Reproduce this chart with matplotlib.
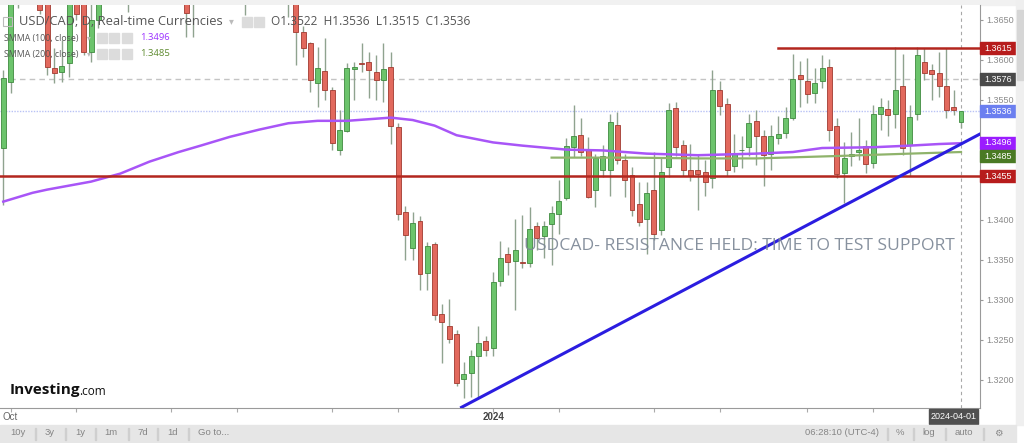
import matplotlib
matplotlib.use("Agg")
import matplotlib.pyplot as plt
import matplotlib.transforms as mtrans
from matplotlib.patches import Rectangle
import numpy as np

# ---------------- data ----------------
opens = [1.3490, 1.3573, 1.3695, 1.3735, 1.3740, 1.3725, 1.3680, 1.3590, 1.3585, 1.3596,
         1.3690, 1.3672, 1.3610, 1.3650, 1.3700, 1.3715, 1.3712, 1.3695, 1.3700, 1.3780,
         1.3800, 1.3830, 1.3820, 1.3865, 1.3820, 1.3745, 1.3675, 1.3720, 1.3775, 1.3790,
         1.3810, 1.3795, 1.3800, 1.3720, 1.3715, 1.3740, 1.3720, 1.3710, 1.3720, 1.3705,
         1.3700, 1.3635, 1.3621, 1.3571, 1.3586, 1.3563, 1.3488, 1.3511, 1.3589, 1.3596,
         1.3598, 1.3585, 1.3575, 1.3591, 1.3516, 1.3410, 1.3365, 1.3399, 1.3334, 1.3370,
         1.3283, 1.3267, 1.3258, 1.3201, 1.3209, 1.3230, 1.3249, 1.3240, 1.3324, 1.3358,
         1.3349, 1.3348, 1.3346, 1.3392, 1.3380, 1.3395, 1.3408, 1.3427, 1.3491, 1.3506,
         1.3487, 1.3438, 1.3462, 1.3463, 1.3519, 1.3475, 1.3456, 1.3420, 1.3401, 1.3438,
         1.3387, 1.3466, 1.3540, 1.3494, 1.3463, 1.3463, 1.3460, 1.3452, 1.3563, 1.3545,
         1.3467, 1.3487, 1.3491, 1.3524, 1.3505, 1.3483, 1.3503, 1.3509, 1.3528, 1.3581,
         1.3574, 1.3559, 1.3574, 1.3591, 1.3518, 1.3459, 1.3480, 1.3485, 1.3493, 1.3471,
         1.3533, 1.3539, 1.3533, 1.3567, 1.3494, 1.3533, 1.3598, 1.3587, 1.3584, 1.3568,
         1.3541, 1.3522]
highs = [1.3588, 1.3710, 1.3760, 1.3785, 1.3770, 1.3735, 1.3690, 1.3615, 1.3625, 1.3705,
         1.3705, 1.3690, 1.3680, 1.3720, 1.3745, 1.3735, 1.3730, 1.3720, 1.3790, 1.3820,
         1.3840, 1.3855, 1.3875, 1.3900, 1.3830, 1.3760, 1.3740, 1.3790, 1.3800, 1.3830,
         1.3820, 1.3815, 1.3810, 1.3750, 1.3760, 1.3750, 1.3740, 1.3730, 1.3735, 1.3720,
         1.3710, 1.3642, 1.3622, 1.3616, 1.3628, 1.3566, 1.3538, 1.3596, 1.3598, 1.3621,
         1.3610, 1.3606, 1.3621, 1.3610, 1.3521, 1.3417, 1.3410, 1.3405, 1.3373, 1.3373,
         1.3295, 1.3301, 1.3263, 1.3222, 1.3237, 1.3267, 1.3255, 1.3335, 1.3374, 1.3366,
         1.3401, 1.3406, 1.3416, 1.3398, 1.3399, 1.3417, 1.3450, 1.3503, 1.3544, 1.3527,
         1.3504, 1.3483, 1.3494, 1.3533, 1.3535, 1.3483, 1.3466, 1.3448, 1.3448, 1.3485,
         1.3477, 1.3546, 1.3547, 1.3500, 1.3495, 1.3483, 1.3475, 1.3588, 1.3574, 1.3553,
         1.3508, 1.3505, 1.3533, 1.3538, 1.3513, 1.3519, 1.3530, 1.3541, 1.3608, 1.3599,
         1.3602, 1.3590, 1.3606, 1.3601, 1.3527, 1.3498, 1.3510, 1.3527, 1.3500, 1.3544,
         1.3553, 1.3550, 1.3616, 1.3608, 1.3544, 1.3616, 1.3615, 1.3595, 1.3610, 1.3615,
         1.3563, 1.3536]
lows = [1.3419, 1.3559, 1.3665, 1.3700, 1.3705, 1.3658, 1.3581, 1.3571, 1.3572, 1.3579,
        1.3650, 1.3606, 1.3597, 1.3640, 1.3690, 1.3680, 1.3675, 1.3660, 1.3690, 1.3760,
        1.3775, 1.3790, 1.3810, 1.3800, 1.3730, 1.3629, 1.3629, 1.3705, 1.3740, 1.3770,
        1.3775, 1.3780, 1.3700, 1.3656, 1.3705, 1.3705, 1.3695, 1.3690, 1.3690, 1.3654,
        1.3594, 1.3604, 1.3560, 1.3541, 1.3550, 1.3488, 1.3481, 1.3510, 1.3550, 1.3585,
        1.3553, 1.3550, 1.3548, 1.3495, 1.3400, 1.3350, 1.3350, 1.3313, 1.3313, 1.3275,
        1.3221, 1.3246, 1.3193, 1.3177, 1.3179, 1.3179, 1.3230, 1.3230, 1.3318, 1.3331,
        1.3288, 1.3340, 1.3341, 1.3363, 1.3352, 1.3344, 1.3383, 1.3425, 1.3479, 1.3480,
        1.3427, 1.3416, 1.3454, 1.3430, 1.3470, 1.3429, 1.3405, 1.3392, 1.3358, 1.3375,
        1.3381, 1.3454, 1.3480, 1.3455, 1.3449, 1.3413, 1.3430, 1.3440, 1.3531, 1.3455,
        1.3460, 1.3465, 1.3480, 1.3469, 1.3442, 1.3463, 1.3495, 1.3502, 1.3525, 1.3541,
        1.3546, 1.3546, 1.3565, 1.3499, 1.3452, 1.3421, 1.3468, 1.3475, 1.3459, 1.3465,
        1.3512, 1.3505, 1.3515, 1.3481, 1.3455, 1.3525, 1.3575, 1.3550, 1.3554, 1.3527,
        1.3531, 1.3515]
closes = [1.3578, 1.3695, 1.3735, 1.3740, 1.3725, 1.3662, 1.3591, 1.3584, 1.3592, 1.3690,
          1.3658, 1.3610, 1.3650, 1.3700, 1.3715, 1.3712, 1.3695, 1.3700, 1.3780, 1.3800,
          1.3830, 1.3820, 1.3865, 1.3820, 1.3745, 1.3659, 1.3720, 1.3775, 1.3790, 1.3810,
          1.3795, 1.3800, 1.3720, 1.3715, 1.3740, 1.3720, 1.3710, 1.3720, 1.3705, 1.3700,
          1.3635, 1.3615, 1.3575, 1.3590, 1.3563, 1.3496, 1.3513, 1.3590, 1.3591, 1.3595,
          1.3588, 1.3575, 1.3589, 1.3518, 1.3408, 1.3381, 1.3396, 1.3332, 1.3367, 1.3281,
          1.3273, 1.3251, 1.3196, 1.3208, 1.3230, 1.3246, 1.3237, 1.3322, 1.3353, 1.3348,
          1.3363, 1.3346, 1.3389, 1.3378, 1.3392, 1.3409, 1.3424, 1.3492, 1.3505, 1.3485,
          1.3429, 1.3478, 1.3480, 1.3523, 1.3475, 1.3450, 1.3412, 1.3397, 1.3434, 1.3383,
          1.3460, 1.3538, 1.3491, 1.3463, 1.3455, 1.3458, 1.3448, 1.3563, 1.3542, 1.3463,
          1.3483, 1.3488, 1.3521, 1.3505, 1.3481, 1.3505, 1.3508, 1.3527, 1.3576, 1.3576,
          1.3558, 1.3571, 1.3590, 1.3513, 1.3458, 1.3478, 1.3483, 1.3488, 1.3470, 1.3533,
          1.3541, 1.3531, 1.3563, 1.3490, 1.3529, 1.3606, 1.3584, 1.3582, 1.3567, 1.3538,
          1.3538, 1.3536]

smma100_idx = [0, 4, 6, 12, 16, 20, 24, 27, 31, 35, 39, 43, 47, 53, 56, 59, 62, 67, 71,
               77, 82, 88, 95, 103, 108, 112, 119, 124, 128, 131]
smma100 = [1.3423, 1.3434, 1.3438, 1.3448, 1.3458, 1.3473, 1.3485, 1.3493, 1.3504, 1.3513,
           1.3521, 1.3524, 1.3524, 1.3528, 1.3525, 1.3518, 1.3506, 1.3497, 1.3493, 1.3488,
           1.3487, 1.3483, 1.3481, 1.3483, 1.3485, 1.3490, 1.3491, 1.3493, 1.3495, 1.3496]
smma200_idx = [75, 86, 95, 103, 114, 124, 131]
smma200 = [1.3478, 1.3478, 1.3477, 1.3477, 1.3480, 1.3483, 1.3485]

trend_idx = [62.5, 131]
trend_val = [1.3165, 1.3495]
support = 1.3455
resistance = 1.3615
resistance_start = 106
prev_level = 1.3576
last_price = 1.3536

xtick_idx = [1, 10, 23, 32, 45, 54, 67, 76, 89, 98, 110, 119]
xtick_lbl = ["Oct", "", "", "", "", "", "2024", "", "", "", "", ""]
ytick_vals = [1.3650, 1.3600, 1.3550, 1.3400, 1.3350, 1.3300, 1.3250, 1.3200]

title = "USD/CAD, D, Real-time Currencies"
ohlc_text = "O1.3522  H1.3536  L1.3515  C1.3536"
note = "USDCAD- RESISTANCE HELD: TIME TO TEST SUPPORT"

# ---------------- figure ----------------
W, H = 1024, 443
fig = plt.figure(figsize=(W / 100, H / 100), dpi=100, facecolor="white")
pix = mtrans.Affine2D().scale(1 / W, -1 / H).translate(0, 1) + fig.transFigure

ax = fig.add_axes([0, (H - 408) / H, 980 / W, (408 - 5) / H])
ax.set_xlim(-0.451, 133.6)
ax.set_ylim(1.3165, 1.36688)
ax.set_facecolor("white")
for s in ["left", "top"]:
    ax.spines[s].set_visible(False)
ax.spines["right"].set_color("#9a9a9a")
ax.spines["bottom"].set_color("#9a9a9a")
ax.set_yticks([])
ax.set_xticks(xtick_idx)
ax.set_xticklabels([])
ax.tick_params(axis="x", length=3, color="#aaaaaa")

# candles
o = np.array(opens); h = np.array(highs); l = np.array(lows); c = np.array(closes)
x = np.arange(len(o))
up = c >= o
ax.vlines(x, l, h, color="#8fa38f", lw=1.0, zorder=2)
bot = np.minimum(o, c)
hgt = np.maximum(np.abs(c - o), 0.00003)
ax.bar(x[up], hgt[up], bottom=bot[up], width=0.68, color="#6cc46c",
       edgecolor="#3f8a3f", lw=0.6, zorder=3)
ax.bar(x[~up], hgt[~up], bottom=bot[~up], width=0.68, color="#e2695d",
       edgecolor="#a03a30", lw=0.6, zorder=3)

# level lines
ax.axhline(prev_level, color="#c4c4c4", lw=1.0, ls=(0, (4, 3)), zorder=1)
ax.axhline(last_price, color="#b9c2f5", lw=1.0, ls=(0, (1, 1)), zorder=1)
ax.axvline(x[-1], color="#a8a8a8", lw=0.8, ls=(0, (3, 3)), zorder=1)

ax.plot(smma100_idx, smma100, color="#a855f7", lw=1.8, zorder=4)
ax.plot(smma200_idx, smma200, color="#8fb36b", lw=1.6, zorder=4)
ax.axhline(support, color="#b3261e", lw=1.8, zorder=4)
ax.plot([resistance_start, 140], [resistance, resistance], color="#b3261e", lw=1.8, zorder=4)
slope = (trend_val[1] - trend_val[0]) / (trend_idx[1] - trend_idx[0])
ax.plot([trend_idx[0], 140], [trend_val[0], trend_val[0] + slope * (140 - trend_idx[0])],
        color="#2b1de0", lw=2.2, zorder=4, solid_capstyle="butt")

# watermark note
fig.text(524 / W, 1 - 246 / H, note, color="#7a8594", fontsize=12.6,
         family="Open Sans", va="center", ha="left", alpha=0.9)

# header
fig.add_artist(Rectangle((0, 1 - 5 / H), 1, 5 / H, transform=fig.transFigure,
                         color="#f1f1f1", zorder=0))
fig.add_artist(Rectangle((3, 26), 9, -9, transform=pix, fill=False, ec="#bbbbbb", lw=0.8))
fig.text(19, 21.5, title, transform=pix, fontsize=9.3, family="Open Sans", color="#555555",
         va="center", ha="left")
fig.text(229, 21.5, "▾", transform=pix, fontsize=7, color="#bbbbbb", va="center", ha="left")
for bx in (242, 254):
    fig.add_artist(Rectangle((bx, 27), 10, -10, transform=pix, color="#dcdcdc"))
fig.text(271, 21.5, ohlc_text, transform=pix, fontsize=8.6, family="Open Sans",
         color="#555555", va="center", ha="left")

rows = [("SMMA (100, close)", "1.3496", "#9b30ff", 38), ("SMMA (200, close)", "1.3485", "#5d8a2e", 54)]
for lab, val, col, yy in rows:
    fig.text(4, yy, lab, transform=pix, fontsize=6.3, family="Open Sans", color="#555555",
             va="center", ha="left")
    fig.text(87, yy, "▾", transform=pix, fontsize=5.5, color="#bbbbbb", va="center", ha="left")
    for bx in (97, 109, 122):
        fig.add_artist(Rectangle((bx, yy + 5), 10, -10, transform=pix, color="#dcdcdc"))
    fig.text(140, yy, val, transform=pix, fontsize=6.8, family="Open Sans", color=col,
             va="center", ha="left")

# logo
fig.text(10, 390, "Investing", transform=pix, fontsize=11, family="Open Sans",
         weight="bold", color="#111111", va="center", ha="left")
fig.text(79, 392, ".com", transform=pix, fontsize=8.5, family="Open Sans",
         color="#111111", va="center", ha="left")

# right axis labels
ytr = mtrans.blended_transform_factory(fig.transFigure, ax.transData)
for v in ytick_vals:
    fig.text(986 / W, v, f"{v:.4f}", transform=ytr, fontsize=6.5, family="Liberation Sans",
             color="#8a8a8a", va="center", ha="left")
    fig.add_artist(Rectangle((980 / W, v), 3 / W, 0, transform=ytr, ec="#999999", lw=0.8))

tags = [(resistance, resistance, "#b71c1c"), (prev_level, prev_level, "#4a4a4a"),
        (last_price, last_price, "#6b7ff0"), (smma100[-1], smma100[-1] + 0.00005, "#9b1cff"),
        (smma200[-1], smma200[-1] - 0.0005, "#4a7a24"), (support, support, "#b71c1c")]
for val, ypos, col in tags:
    hh = 11.5 / 8000
    fig.add_artist(Rectangle((980 / W, ypos - hh / 2), 36 / W, hh, transform=ytr, color=col))
    fig.text(998 / W, ypos, f"{val:.4f}", transform=ytr, fontsize=6.5, family="Liberation Sans",
             color="white", va="center", ha="center")

# scrollbar
fig.add_artist(Rectangle((1016, 425), 8, -425, transform=pix, color="#efefef"))
fig.add_artist(Rectangle((1017, 80), 6, -70, transform=pix, color="#d6d6d6"))

# x labels
xtr = mtrans.blended_transform_factory(ax.transData, pix)
for xi, lb in zip(xtick_idx, xtick_lbl):
    if lb:
        fig.text(xi, 417, lb, transform=xtr, fontsize=7, family="Liberation Sans",
                 color="#444444" if lb == "2024" else "#666666",
                 weight="bold" if lb == "2024" else "normal", va="center", ha="center")
fig.add_artist(Rectangle((929, 424), 49, -15, transform=pix, color="#505050"))
fig.text(953.5, 416.5, "2024-04-01", transform=pix, fontsize=6.5, family="Liberation Sans",
         color="white", va="center", ha="center")

# bottom toolbar
fig.add_artist(Rectangle((0, 443), 1016, -18, transform=pix, color="#e6e6e6"))
left_items = [("10y", 18), ("3y", 50), ("1y", 80), ("1m", 111), ("7d", 143), ("1d", 173), ("Go to...", 214)]
for t, xx in left_items:
    fig.text(xx, 433, t, transform=pix, fontsize=6.8, family="Liberation Sans",
             color="#858585", va="center", ha="center")
for sx in (35, 65, 95, 128, 157, 188, 887, 913, 945, 983):
    fig.add_artist(Rectangle((sx, 440), 0.8, -12, transform=pix, color="#cfcfcf"))
right_items = [("06:28:10 (UTC-4)", 842), ("%", 900), ("log", 929), ("auto", 964), ("⚙", 998)]
for t, xx in right_items:
    fig.text(xx, 433, t, transform=pix, fontsize=6.8, family=["Liberation Sans", "DejaVu Sans"],
             color="#858585", va="center", ha="center")

fig.savefig("out.png", dpi=100, facecolor="white")
